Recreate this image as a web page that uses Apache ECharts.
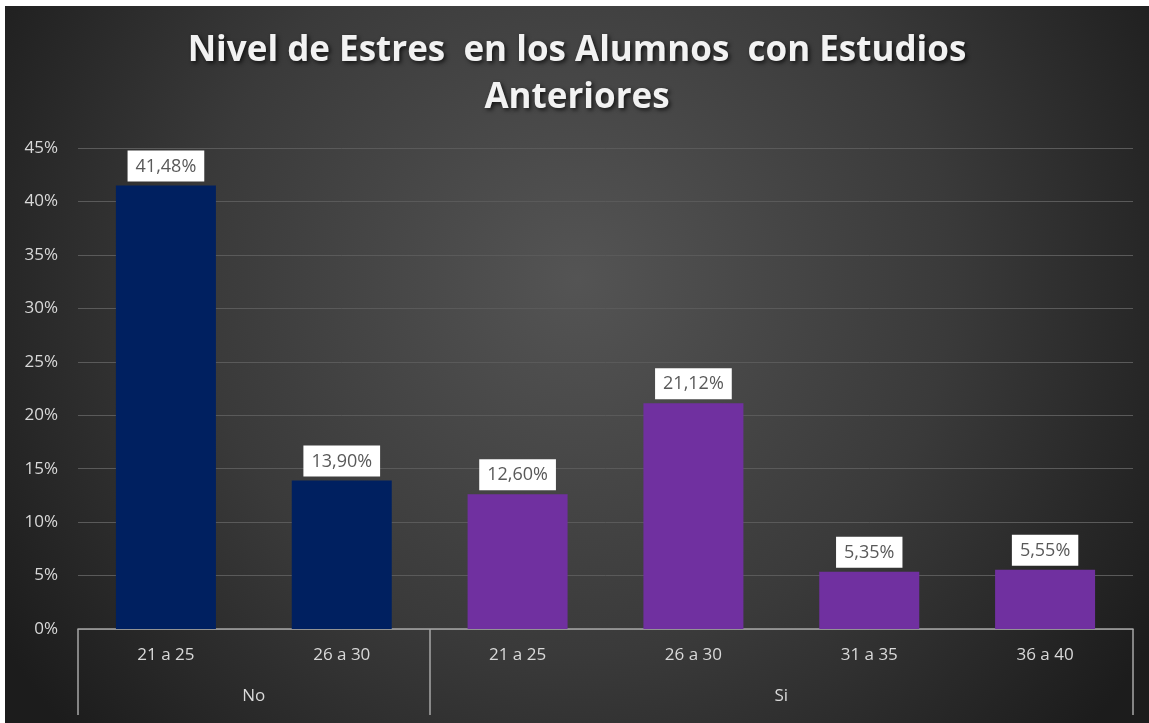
<!DOCTYPE html>
<html>
<head>
<meta charset="utf-8">
<script src="https://cdn.jsdelivr.net/npm/echarts@6/dist/echarts.min.js"></script>
<style>
  html, body { margin: 0; padding: 0; background: #fff; }
  #main { position: absolute; left: 5px; top: 6px; width: 1144px; height: 717px; }
</style>
</head>
<body>
<div id="main"></div>
<script>
// datos del grafico
const categories = ['21 a 25', '26 a 30', '21 a 25', '26 a 30', '31 a 35', '36 a 40']
const values = [41.48, 13.90, 12.60, 21.12, 5.35, 5.55]
const groups = ['No', 'Si']
const groupSizes = [2, 4]
const groupColors = ['#002060', '#7030a0']
const yMin = 0
const yMax = 45
const yStep = 5

// limites de cada grupo (en unidades de categoria)
let bounds = [0]
groupSizes.forEach(n => bounds.push(bounds[bounds.length - 1] + n))
let groupCenters = groups.map((g, i) => (bounds[i] + bounds[i + 1]) / 2)

let barColors = []
groupSizes.forEach((n, i) => {
  for (let k = 0; k < n; k++) barColors.push(groupColors[i])
})

let chart = echarts.init(document.getElementById('main'))

let option = {
  backgroundColor: new echarts.graphic.RadialGradient(0.5, 0.38, 0.95, [
    { offset: 0, color: '#545454' },
    { offset: 0.55, color: '#3a3a3a' },
    { offset: 1, color: '#1c1c1c' }
  ]),
  title: {
    text: 'Nivel de Estres  en los Alumnos  con Estudios\nAnteriores',
    left: 'center',
    top: 17,
    textStyle: {
      fontFamily: 'Open Sans',
      fontWeight: 'bold',
      fontSize: 35,
      lineHeight: 47,
      color: '#f2f2f2',
      textShadowColor: 'rgba(0,0,0,0.7)',
      textShadowBlur: 4,
      textShadowOffsetX: 2,
      textShadowOffsetY: 2
    }
  },
  grid: {
    left: 73,
    right: 16,
    top: 142,
    bottom: 94
  },
  xAxis: [
    {
      type: 'category',
      data: categories,
      axisLine: { lineStyle: { color: '#a6a6a6', width: 1.5 } },
      axisTick: { show: false },
      axisLabel: {
        margin: 18,
        color: '#d9d9d9',
        fontFamily: 'Open Sans',
        fontSize: 17
      }
    },
    {
      // segundo nivel: grupos
      type: 'value',
      position: 'bottom',
      min: 0,
      max: categories.length,
      axisLine: { show: false },
      splitLine: { show: false },
      axisTick: {
        show: true,
        customValues: bounds,
        length: 86,
        lineStyle: { color: '#a6a6a6', width: 1.5 }
      },
      axisLabel: {
        customValues: groupCenters,
        margin: 59,
        color: '#d9d9d9',
        fontFamily: 'Open Sans',
        fontSize: 17,
        formatter: function (val) {
          let idx = groupCenters.indexOf(val)
          return idx >= 0 ? groups[idx] : ''
        }
      }
    }
  ],
  yAxis: {
    type: 'value',
    min: yMin,
    max: yMax,
    interval: yStep,
    axisLine: { show: false },
    axisTick: { show: false },
    axisLabel: {
      margin: 20,
      color: '#d9d9d9',
      fontFamily: 'Open Sans',
      fontSize: 17,
      formatter: '{value}%'
    },
    splitLine: {
      lineStyle: { color: '#5a5a5a', width: 1 }
    }
  },
  series: [
    {
      type: 'bar',
      xAxisIndex: 0,
      barWidth: 100,
      data: values.map((v, i) => ({ value: v, itemStyle: { color: barColors[i] } })),
      label: {
        show: true,
        position: 'top',
        distance: 4,
        backgroundColor: '#ffffff',
        padding: [7, 8, 6, 8],
        color: '#595959',
        fontFamily: 'Open Sans',
        fontSize: 18,
        formatter: function (p) {
          return p.value.toFixed(2).replace('.', ',') + '%'
        }
      }
    }
  ]
}

chart.setOption(option)
</script>
</body>
</html>
